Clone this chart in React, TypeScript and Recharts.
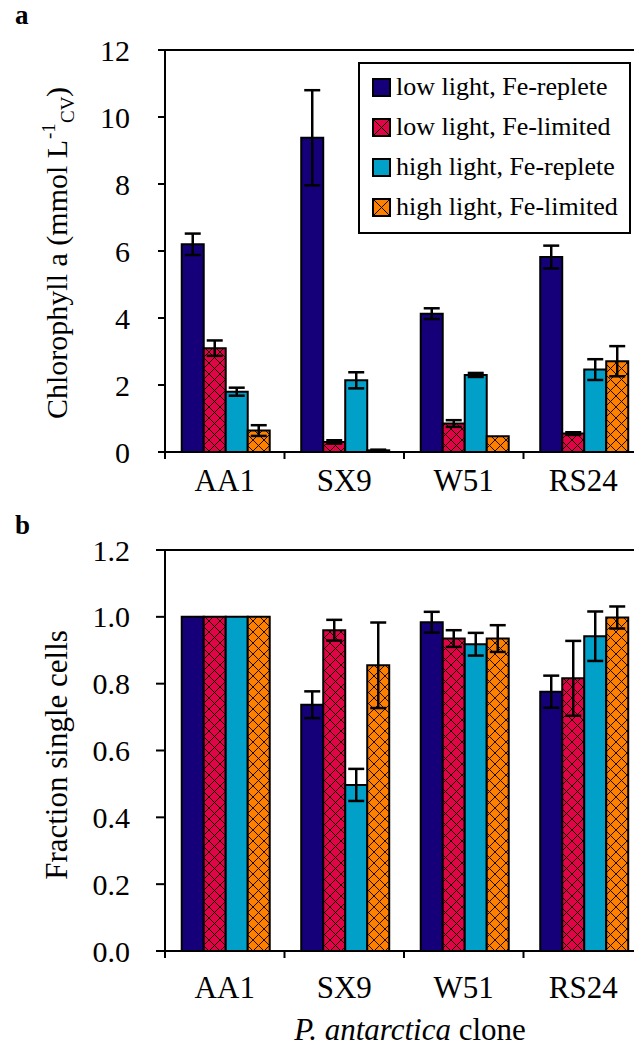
import React from "react";
import {
  BarChart,
  Bar,
  XAxis,
  YAxis,
  ErrorBar,
  ReferenceLine,
} from "recharts";

// clones on the x axis
const clones = ["AA1", "SX9", "W51", "RS24"];
const seriesNames = [
  "low light, Fe-replete",
  "low light, Fe-limited",
  "high light, Fe-replete",
  "high light, Fe-limited",
];

// panel a: chlorophyll a (mmol L-1 cell volume)
const chlLowRep = [6.2, 9.38, 4.13, 5.82];
const chlLowRepErr = [0.32, 1.42, 0.16, 0.34];
const chlLowLim = [3.1, 0.3, 0.85, 0.55];
const chlLowLimErr = [0.23, 0.05, 0.1, 0.04];
const chlHighRep = [1.8, 2.14, 2.3, 2.46];
const chlHighRepErr = [0.12, 0.24, 0.06, 0.31];
const chlHighLim = [0.64, 0.05, 0.47, 2.71];
const chlHighLimErr = [0.16, 0.02, 0, 0.45];
const chlTicks = [0, 2, 4, 6, 8, 10, 12];

// panel b: fraction single cells
const fracLowRep = [1.0, 0.737, 0.984, 0.776];
const fracLowRepErr = [0, 0.04, 0.031, 0.048];
const fracLowLim = [1.0, 0.96, 0.935, 0.816];
const fracLowLimErr = [0, 0.031, 0.025, 0.112];
const fracHighRep = [1.0, 0.497, 0.918, 0.942];
const fracHighRepErr = [0, 0.048, 0.034, 0.074];
const fracHighLim = [1.0, 0.855, 0.935, 0.998];
const fracHighLimErr = [0, 0.128, 0.04, 0.033];
const fracTicks = [0, 0.2, 0.4, 0.6, 0.8, 1.0, 1.2];

const FONT = '"Liberation Serif", "Times New Roman", serif';
const NAVY = "#15007a";
const RED = "#e00646";
const CYAN = "#00a0c8";
const ORANGE = "#ff8000";

const PLOT_LEFT = 165;
const PLOT_RIGHT = 643; // the frame runs past the right edge of the picture
const HALF_BAND = (PLOT_RIGHT - PLOT_LEFT) / clones.length / 2;

const chlData = clones.map((name, i) => ({
  name,
  lr: chlLowRep[i], lrE: chlLowRepErr[i],
  ll: chlLowLim[i], llE: chlLowLimErr[i],
  hr: chlHighRep[i], hrE: chlHighRepErr[i],
  hl: chlHighLim[i], hlE: chlHighLimErr[i],
}));

const fracData = clones.map((name, i) => ({
  name,
  lr: fracLowRep[i], lrE: fracLowRepErr[i],
  ll: fracLowLim[i], llE: fracLowLimErr[i],
  hr: fracHighRep[i], hrE: fracHighRepErr[i],
  hl: fracHighLim[i], hlE: fracHighLimErr[i],
}));

const HatchDefs = ({ id }: { id: string }) => (
  <defs>
    {[
      ["red", RED],
      ["orange", ORANGE],
    ].map(([k, c]) => (
      <pattern key={k} id={`${id}-${k}`} patternUnits="userSpaceOnUse" width={11} height={11}>
        <rect width={11} height={11} fill={c} />
        <path d="M0,0 L11,11 M11,0 L0,11" stroke="#000" strokeWidth={0.9} />
      </pattern>
    ))}
  </defs>
);

// Excel style: tick marks between categories, label in the middle
const makeCatTick = (tickSize: number, tickMargin: number) => (props: any) => {
  const { x, y, payload } = props;
  const axisY = y - tickSize - tickMargin;
  return (
    <g>
      <line x1={x - HALF_BAND} x2={x - HALF_BAND} y1={axisY} y2={axisY + tickSize} stroke="#000" strokeWidth={2} />
      <text x={x} y={y} dy="0.71em" textAnchor="middle" fontFamily={FONT} fontSize={31} fill="#000">
        {payload.value}
      </text>
    </g>
  );
};

const LegendBox = () => {
  const fills = [NAVY, RED, CYAN, ORANGE];
  return (
    <div
      style={{
        position: "absolute",
        left: 358,
        top: 62,
        width: 257,
        border: "2px solid #000",
        background: "#fff",
        padding: "3px 0 5px 12px",
        fontFamily: FONT,
        fontSize: 26,
        color: "#000",
      }}
    >
      {seriesNames.map((n, i) => (
        <div key={n} style={{ height: 40, display: "flex", alignItems: "center", whiteSpace: "nowrap" }}>
          <svg width={19} height={19} style={{ marginRight: 5 }}>
            <rect x={1} y={1} width={17} height={17} fill={fills[i]} stroke="#000" strokeWidth={2} />
            {(i === 1 || i === 3) && <path d="M2,2 L17,17 M17,2 L2,17" stroke="#000" strokeWidth={1} />}
          </svg>
          {n}
        </div>
      ))}
    </div>
  );
};

const axisStyle = { stroke: "#000", strokeWidth: 2 };
const yTick = { fontFamily: FONT, fontSize: 30, fill: "#000" };

function Bars({ hatch }: { hatch: string }) {
  const err = { width: 8, stroke: "#000", strokeWidth: 2.5, direction: "y" as const };
  return (
    <>
      <Bar dataKey="lr" fill={NAVY} stroke="#000" strokeWidth={2} isAnimationActive={false}>
        <ErrorBar dataKey="lrE" {...err} />
      </Bar>
      <Bar dataKey="ll" fill={`url(#${hatch}-red)`} stroke="#000" strokeWidth={2} isAnimationActive={false}>
        <ErrorBar dataKey="llE" {...err} />
      </Bar>
      <Bar dataKey="hr" fill={CYAN} stroke="#000" strokeWidth={2} isAnimationActive={false}>
        <ErrorBar dataKey="hrE" {...err} />
      </Bar>
      <Bar dataKey="hl" fill={`url(#${hatch}-orange)`} stroke="#000" strokeWidth={2} isAnimationActive={false}>
        <ErrorBar dataKey="hlE" {...err} />
      </Bar>
    </>
  );
}

const txt = { fontFamily: FONT, fill: "#000" };

export default function App() {
  return (
    <div style={{ position: "relative", width: 634, height: 1049, overflow: "hidden", background: "#fff", fontFamily: FONT }}>
      <style>{`body{margin:0}`}</style>

      <div style={{ position: "absolute", left: 15, top: 2, fontSize: 27, fontWeight: "bold", lineHeight: 1 }}>a</div>
      <div style={{ position: "absolute", left: 15, top: 512, fontSize: 27, fontWeight: "bold", lineHeight: 1 }}>b</div>

      {/* panel a */}
      <div style={{ position: "absolute", left: 0, top: 0 }}>
        <BarChart
          width={PLOT_RIGHT + 17}
          height={500}
          data={chlData}
          margin={{ top: 50, right: 17, left: 0, bottom: 0 }}
          barCategoryGap="14%"
          barGap={0}
        >
          <HatchDefs id="ha" />
          <g transform="translate(67,249) rotate(-90)">
            <text x={-170} y={0} textAnchor="start" fontSize={30} {...txt}>Chlorophyll a (mmol L</text>
            <text x={110} y={-12} textAnchor="start" fontSize={19} {...txt}>-1</text>
            <text x={126} y={7} textAnchor="start" fontSize={19} {...txt}>CV</text>
            <text x={152} y={0} textAnchor="start" fontSize={30} {...txt}>)</text>
          </g>
          <XAxis
            dataKey="name"
            height={48}
            axisLine={axisStyle}
            tickLine={false}
            tickSize={7}
            tickMargin={10}
            tick={makeCatTick(7, 10)}
            interval={0}
          />
          <YAxis
            width={PLOT_LEFT}
            domain={[0, 12]}
            ticks={chlTicks}
            interval={0}
            axisLine={axisStyle}
            tickLine={axisStyle}
            tickSize={7}
            tickMargin={28}
            tick={yTick}
          />
          <ReferenceLine y={12} stroke="#000" strokeWidth={2} />
          {Bars({ hatch: "ha" })}
        </BarChart>
        <LegendBox />
      </div>

      {/* panel b */}
      <div style={{ position: "absolute", left: 0, top: 500 }}>
        <BarChart
          width={PLOT_RIGHT + 17}
          height={549}
          data={fracData}
          margin={{ top: 50, right: 17, left: 0, bottom: 0 }}
          barCategoryGap="14%"
          barGap={0}
        >
          <HatchDefs id="hb" />
          <g transform="translate(67,255) rotate(-90)">
            <text x={0} y={0} textAnchor="middle" fontSize={31} {...txt}>
              Fraction single cells
            </text>
          </g>
          <text x={410} y={540} textAnchor="middle" fontSize={31} {...txt}>
            <tspan fontStyle="italic">P. antarctica</tspan>
            <tspan> clone</tspan>
          </text>
          <XAxis
            dataKey="name"
            height={98}
            axisLine={axisStyle}
            tickLine={false}
            tickSize={7}
            tickMargin={18}
            tick={makeCatTick(7, 18)}
            interval={0}
          />
          <YAxis
            width={PLOT_LEFT}
            domain={[0, 1.2]}
            ticks={fracTicks}
            interval={0}
            axisLine={axisStyle}
            tickLine={axisStyle}
            tickSize={9}
            tickMargin={26}
            tick={yTick}
            tickFormatter={(v: number) => v.toFixed(1)}
          />
          <ReferenceLine y={1.2} stroke="#000" strokeWidth={2} />
          {Bars({ hatch: "hb" })}
        </BarChart>
      </div>
    </div>
  );
}
